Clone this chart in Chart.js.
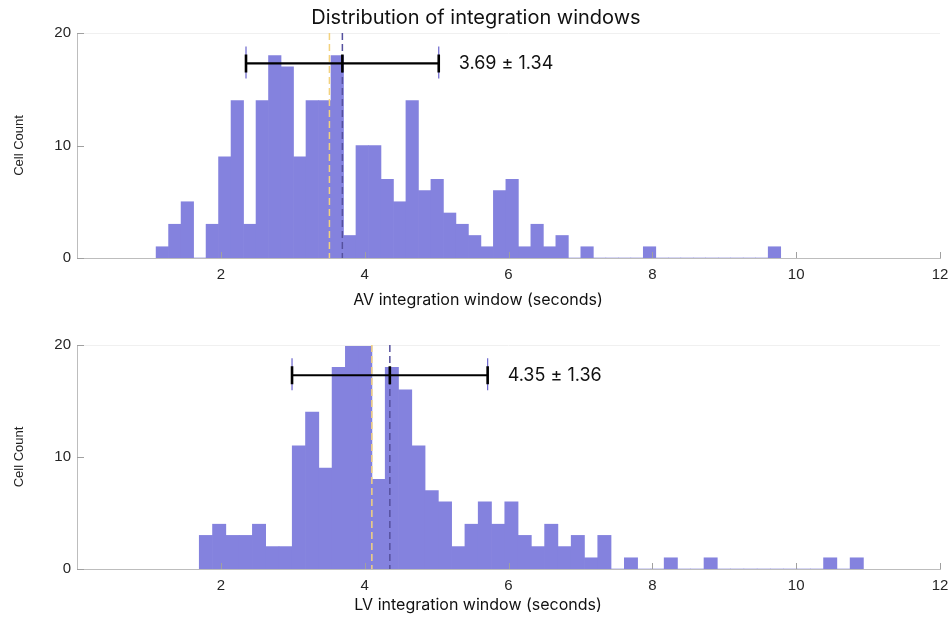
<!DOCTYPE html>
<html>
<head>
<meta charset="utf-8">
<script src="https://cdn.jsdelivr.net/npm/chart.js@4.4.1/dist/chart.umd.min.js"></script>
<style>
  body { margin: 0; background: #fff; }
  #wrap { position: relative; width: 952px; height: 618px; }
  .holder { position: absolute; left: 0; width: 952px; }
</style>
</head>
<body>
<div id="wrap">
  <div class="holder" style="top:0;height:318px"><canvas id="avChart"></canvas></div>
  <div class="holder" style="top:318px;height:300px"><canvas id="lvChart"></canvas></div>
</div>

<script>
// AV histogram (50 bins)
var avBinStart = 1.10;
var avBinWidth = 0.1737;
var avCounts = [1,3,5,0,3,9,14,3,14,18,17,9,14,14,18,2,10,10,7,5,
                14,6,7,4,3,2,1,6,7,1,3,1,2,0,1,0,0,0,0,1,
                0,0,0,0,0,0,0,0,0,1];
var avMean = 3.69, avSd = 1.34, avMedian = 3.51;

// LV histogram (50 bins)
var lvBinStart = 1.70;
var lvBinWidth = 0.1847;
var lvCounts = [3,4,3,3,4,2,2,11,14,9,18,20,20,8,18,16,11,7,6,2,
                4,6,4,6,3,2,4,2,3,1,3,0,1,0,0,1,0,0,1,0,
                0,0,0,0,0,0,0,1,0,1];
var lvMean = 4.35, lvSd = 1.36, lvMedian = 4.10;

var xTicks = [2, 4, 6, 8, 10, 12];
var yTicks = [0, 10, 20];
var errLevel = 17.3;

var barColor = '#8482de';
var titleFont = 'Inter, "Noto Sans", sans-serif';
var tickFont = '"Liberation Sans", Arial, sans-serif';

function binPoints(start, width, counts) {
  return counts.map(function(c, i) {
    return { x: start + (i + 0.5) * width, y: c };
  });
}

var decor = {
  id: 'decor',
  afterDatasetsDraw: function(chart, args, o) {
    var ctx = chart.ctx, a = chart.chartArea;
    var xs = chart.scales.x, ys = chart.scales.y;
    ctx.save();
    // faint top box line
    ctx.strokeStyle = '#f0f0f0';
    ctx.lineWidth = 1;
    ctx.beginPath();
    ctx.moveTo(a.left, a.top + 0.5); ctx.lineTo(a.right, a.top + 0.5);
    ctx.stroke();
    // inside tick marks
    ctx.strokeStyle = '#a0a0a0';
    ctx.beginPath();
    xTicks.forEach(function(t) {
      var px = Math.round(xs.getPixelForValue(t)) + 0.5;
      ctx.moveTo(px, a.bottom); ctx.lineTo(px, a.bottom - 6);
    });
    yTicks.forEach(function(t) {
      var py = Math.round(ys.getPixelForValue(t)) + 0.5;
      ctx.moveTo(a.left, py); ctx.lineTo(a.left + 7, py);
    });
    ctx.stroke();

    // median and mean lines
    ctx.lineWidth = 1.5;
    ctx.setLineDash([7, 4]);
    ctx.strokeStyle = '#f3d27e';
    var mx = xs.getPixelForValue(o.median);
    ctx.beginPath(); ctx.moveTo(mx, a.top); ctx.lineTo(mx, a.bottom); ctx.stroke();
    ctx.strokeStyle = '#55509e';
    var mean = xs.getPixelForValue(o.mean);
    ctx.beginPath(); ctx.moveTo(mean, a.top); ctx.lineTo(mean, a.bottom); ctx.stroke();
    ctx.setLineDash([]);

    // error bar
    var lo = xs.getPixelForValue(o.mean - o.sd);
    var hi = xs.getPixelForValue(o.mean + o.sd);
    var ey = ys.getPixelForValue(errLevel);
    ctx.strokeStyle = '#6b65cc';
    ctx.lineWidth = 1.2;
    ctx.beginPath();
    ctx.moveTo(lo, ey - 17); ctx.lineTo(lo, ey + 15);
    ctx.moveTo(hi, ey - 17); ctx.lineTo(hi, ey + 15);
    ctx.stroke();
    ctx.strokeStyle = '#000';
    ctx.lineWidth = 2.2;
    ctx.beginPath();
    ctx.moveTo(lo, ey); ctx.lineTo(hi, ey);
    ctx.stroke();
    ctx.lineWidth = 2.6;
    ctx.beginPath();
    [lo, mean, hi].forEach(function(px) {
      ctx.moveTo(px, ey - 9); ctx.lineTo(px, ey + 9);
    });
    ctx.stroke();

    ctx.fillStyle = '#111';
    ctx.font = '18px ' + titleFont;
    ctx.textAlign = 'left';
    ctx.textBaseline = 'middle';
    ctx.fillText(o.mean.toFixed(2) + ' \u00b1 ' + o.sd.toFixed(2), hi + 20, ey);
    ctx.restore();
  },
  afterDraw: function(chart, args, o) {
    var ctx = chart.ctx, a = chart.chartArea;
    ctx.save();
    ctx.fillStyle = '#111';
    ctx.textAlign = 'center';
    ctx.textBaseline = 'middle';
    if (o.title) {
      ctx.font = '20px ' + titleFont;
      ctx.fillText(o.title, 476, 18);
    }
    ctx.font = '16px ' + titleFont;
    ctx.fillText(o.xTitle, 478, o.xTitleY);
    ctx.translate(19, (a.top + a.bottom) / 2);
    ctx.rotate(-Math.PI / 2);
    ctx.font = '13px ' + tickFont;
    ctx.fillStyle = '#222';
    ctx.fillText('Cell Count', 0, 0);
    ctx.restore();
  }
};

function makeHist(id, points, padTop, xAxisH, decorOpts) {
  return new Chart(document.getElementById(id), {
    type: 'bar',
    data: {
      datasets: [{
        data: points,
        backgroundColor: barColor,
        borderWidth: 0,
        barPercentage: 1,
        categoryPercentage: 1
      }]
    },
    options: {
      responsive: true,
      maintainAspectRatio: false,
      animation: false,
      layout: { padding: { left: 0, right: 12, top: padTop, bottom: 0 } },
      plugins: {
        legend: { display: false },
        tooltip: { enabled: false },
        decor: decorOpts
      },
      scales: {
        x: {
          type: 'linear',
          min: 0, max: 12,
          offset: false,
          grid: { display: false, drawTicks: false },
          border: { color: '#bdbdbd' },
          ticks: {
            stepSize: 2,
            color: '#262626',
            padding: 8,
            font: { family: tickFont, size: 15 },
            callback: function(v) { return v === 0 ? '' : v; }
          },
          afterFit: function(s) {
            s.height = xAxisH;
            s.paddingRight = 12;
            s.paddingLeft = 0;
          }
        },
        y: {
          min: 0, max: 20,
          grid: { display: false, drawTicks: false },
          border: { color: '#bdbdbd' },
          ticks: {
            stepSize: 10,
            color: '#262626',
            padding: 6,
            font: { family: tickFont, size: 15 }
          },
          afterFit: function(s) { s.width = 77; }
        }
      }
    },
    plugins: [decor]
  });
}

makeHist('avChart', binPoints(avBinStart, avBinWidth, avCounts), 33, 60, {
  mean: avMean, sd: avSd, median: avMedian,
  title: 'Distribution of integration windows',
  xTitle: 'AV integration window (seconds)', xTitleY: 300
});
makeHist('lvChart', binPoints(lvBinStart, lvBinWidth, lvCounts), 27, 49, {
  mean: lvMean, sd: lvSd, median: lvMedian,
  title: null,
  xTitle: 'LV integration window (seconds)', xTitleY: 287
});
</script>
</body>
</html>
